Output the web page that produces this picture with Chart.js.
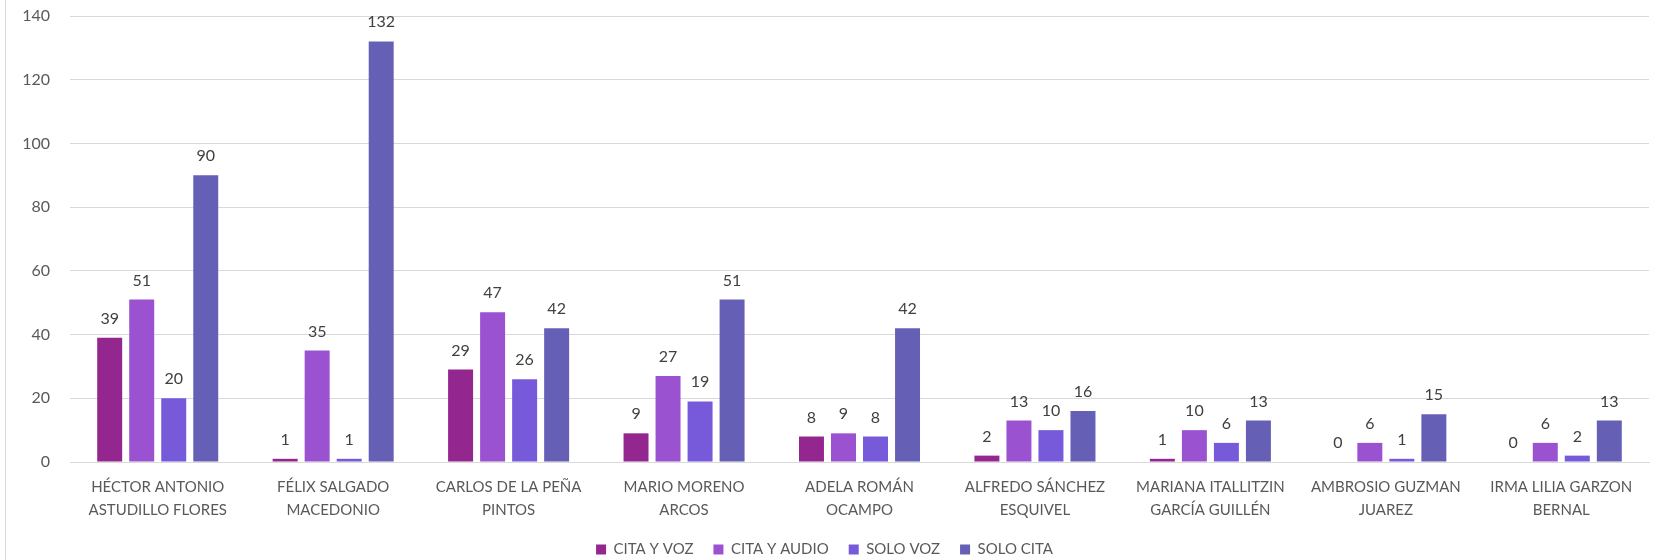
<!DOCTYPE html>
<html>
<head>
<meta charset="utf-8">
<script src="https://cdn.jsdelivr.net/npm/chart.js@4"></script>
<style>
  html, body { margin: 0; padding: 0; background: #fff; overflow: hidden; }
  #wrap { position: absolute; left: 0; top: 0; width: 1667px; height: 560px; overflow: hidden; }
  #edge { position: absolute; left: 5px; top: 0; width: 1px; height: 560px; background: #d9d9d9; }
  #myChart { position: absolute; left: 0; top: 0; }
</style>
</head>
<body>
<div id="wrap">
  <div id="edge"></div>
  <canvas id="myChart" width="1667" height="560"></canvas>
</div>
<script>
const categories = [
  ["HÉCTOR ANTONIO", "ASTUDILLO FLORES"],
  ["FÉLIX SALGADO", "MACEDONIO"],
  ["CARLOS DE LA PEÑA", "PINTOS"],
  ["MARIO MORENO", "ARCOS"],
  ["ADELA ROMÁN", "OCAMPO"],
  ["ALFREDO SÁNCHEZ", "ESQUIVEL"],
  ["MARIANA ITALLITZIN", "GARCÍA GUILLÉN"],
  ["AMBROSIO GUZMAN", "JUAREZ"],
  ["IRMA LILIA GARZON", "BERNAL"]
];
const citaYVoz   = [39, 1, 29, 9, 8, 2, 1, 0, 0];
const citaYAudio = [51, 35, 47, 27, 9, 13, 10, 6, 6];
const soloVoz    = [20, 1, 26, 19, 8, 10, 6, 1, 2];
const soloCita   = [90, 132, 42, 51, 42, 16, 13, 15, 13];
const yTicks = [0, 20, 40, 60, 80, 100, 120, 140];

const fontFam = "Lato, 'Open Sans', sans-serif";

// plot area wanted (same as the excel picture)
const areaTop = 16, areaBottom = 462;
let padTop = 16;
let xAxisH = 53;

// value labels above each bar
const barLabels = {
  id: 'barLabels',
  afterDatasetsDraw(chart) {
    const ctx = chart.ctx;
    ctx.save();
    ctx.font = "16px " + fontFam;
    ctx.fillStyle = '#404040';
    ctx.textAlign = 'center';
    ctx.textBaseline = 'alphabetic';
    chart.data.datasets.forEach((ds, i) => {
      chart.getDatasetMeta(i).data.forEach((bar, j) => {
        ctx.fillText(ds.data[j], bar.x, bar.y - 14);
      });
    });
    ctx.restore();
  }
};

const ctx = document.getElementById('myChart').getContext('2d');
const myChart = new Chart(ctx, {
  type: 'bar',
  data: {
    labels: categories,
    datasets: [
      { label: 'CITA Y VOZ', data: citaYVoz, backgroundColor: '#93268f' },
      { label: 'CITA Y AUDIO', data: citaYAudio, backgroundColor: '#9b52d1' },
      { label: 'SOLO VOZ', data: soloVoz, backgroundColor: '#765ad9' },
      { label: 'SOLO CITA', data: soloCita, backgroundColor: '#665fb6' }
    ]
  },
  options: {
    responsive: false,
    animation: false,
    categoryPercentage: 0.73,
    barPercentage: 0.78,
    layout: { padding: { left: 0, right: 18, top: padTop, bottom: -7 } },
    plugins: {
      legend: {
        position: 'bottom',
        labels: {
          boxWidth: 10, boxHeight: 10, padding: 20,
          color: '#595959',
          font: { family: fontFam, size: 15 }
        }
      },
      tooltip: { enabled: false }
    },
    scales: {
      x: {
        grid: { display: false },
        border: { color: '#d9d9d9', width: 1 },
        ticks: { color: '#595959', font: { family: fontFam, size: 15, lineHeight: 1.5 }, maxRotation: 0, padding: 6 },
        afterFit(axis) { axis.height = xAxisH; }
      },
      y: {
        min: 0, max: 140,
        afterBuildTicks(axis) { axis.ticks = yTicks.map(v => ({ value: v })); },
        grid: { color: '#d9d9d9', lineWidth: 1, drawTicks: false },
        border: { display: false },
        ticks: { color: '#595959', font: { family: fontFam, size: 16 }, padding: 20 },
        afterFit(axis) { axis.width = 70; axis.paddingTop = 0; axis.paddingBottom = 0; }
      }
    }
  },
  plugins: [barLabels]
});

// nudge the layout until the plot area sits where it should
for (let k = 0; k < 5; k++) {
  const a = myChart.chartArea;
  const dt = areaTop - a.top, db = areaBottom - a.bottom;
  if (Math.abs(dt) < 0.5 && Math.abs(db) < 0.5) break;
  padTop += dt;
  xAxisH -= db;
  myChart.options.layout.padding.top = padTop;
  myChart.update();
}
</script>
</body>
</html>
